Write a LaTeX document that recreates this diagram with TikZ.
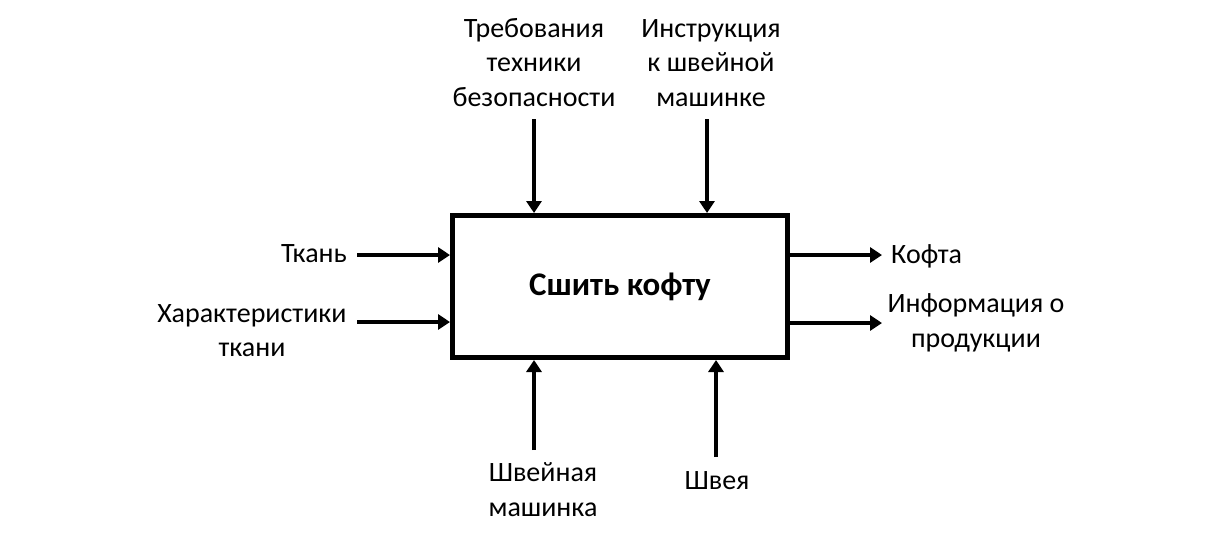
\documentclass[tikz,border=0pt]{standalone}
\usepackage{fontspec}
\setmainfont{Carlito}
\usetikzlibrary{arrows.meta}
\begin{document}
\begin{tikzpicture}[x=1pt,y=-1pt,
  lbl/.style={inner sep=0pt, align=center, font=\fontsize{28}{34.5}\selectfont},
  arr/.style={line width=4pt, -{Triangle[length=12pt,width=15pt]}},
  func/.style={draw, line width=5pt, minimum width=335pt, minimum height=142pt, inner sep=0pt,
    font=\bfseries\fontsize{33}{40}\selectfont}]
\useasboundingbox (0,0) rectangle (1215,539);

% function block
\node[func] (box) at (620,286.5) {Сшить кофту};

% labels (base anchor sits on the last line's baseline)
\node[lbl, anchor=base] (ctl1) at (534,106) {Требования\\техники\\безопасности};
\node[lbl, anchor=base] (ctl2) at (711,106) {Инструкция\\к швейной\\машинке};
\node[lbl, anchor=base east] (in1) at (347,262) {Ткань};
\node[lbl, anchor=base] (in2) at (252,356.5) {Характеристики\\ткани};
\node[lbl, anchor=base west] (out1) at (891,263) {Кофта};
\node[lbl, anchor=base] (out2) at (976,347) {Информация о\\продукции};
\node[lbl, anchor=base] (mec1) at (543,516) {Швейная\\машинка};
\node[lbl, anchor=base] (mec2) at (717,489) {Швея};

% free ends of the arrows
\coordinate (c1) at (534,119);
\coordinate (c2) at (707,119);
\coordinate (i1) at (357,255);
\coordinate (i2) at (357,322);
\coordinate (o1) at (882,255);
\coordinate (o2) at (882,323);
\coordinate (m1) at (534,450);
\coordinate (m2) at (716,457);

% arrows
\draw[arr] (c1) -- (c1 |- box.north);
\draw[arr] (c2) -- (c2 |- box.north);
\draw[arr] (i1) -- (i1 -| box.west);
\draw[arr] (i2) -- (i2 -| box.west);
\draw[arr] (o1 -| box.east) -- (o1);
\draw[arr] (o2 -| box.east) -- (o2);
\draw[arr] (m1) -- (m1 |- box.south);
\draw[arr] (m2) -- (m2 |- box.south);
\end{tikzpicture}
\end{document}
